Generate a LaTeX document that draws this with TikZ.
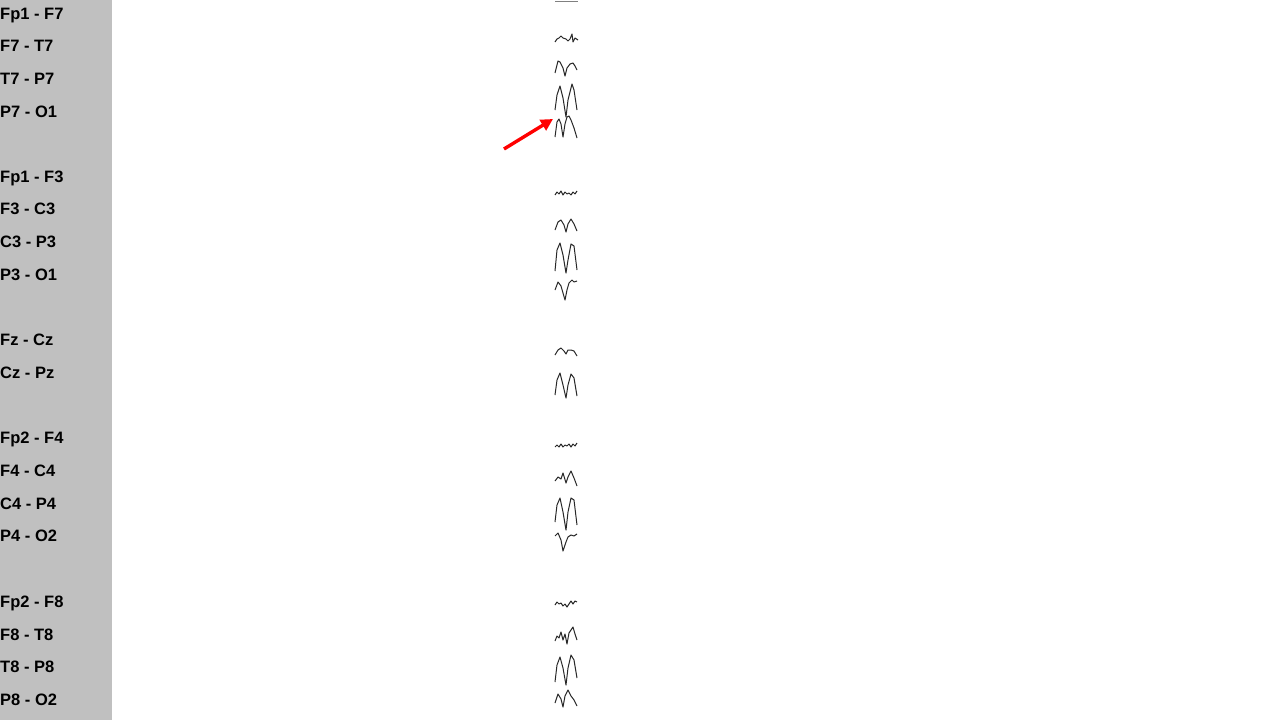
\documentclass[tikz,border=0pt]{standalone}
\usepackage{fontspec}
\setmainfont{Liberation Sans}
\usetikzlibrary{arrows.meta}
\definecolor{panelgray}{RGB}{192,192,192}
\definecolor{tracecol}{RGB}{40,40,40}
\begin{document}
\begin{tikzpicture}[x=1pt,y=-1pt,
  lbl/.style={anchor=base west,inner sep=0pt,font=\fontsize{16.5}{18}\selectfont\bfseries},
  trace/.style={draw=tracecol,line width=1pt,line join=round}]
\useasboundingbox (0,0) rectangle (1280,720);
\fill[white] (0,0) rectangle (1280,720);
\fill[panelgray] (0,0) rectangle (112,720);
% labels
\foreach \t/\y [count=\i] in {Fp1 - F7/13,F7 - T7/45,T7 - P7/78,P7 - O1/111,
  Fp1 - F3/176,F3 - C3/208,C3 - P3/241,P3 - O1/274,
  Fz - Cz/339,Cz - Pz/372,
  Fp2 - F4/437,F4 - C4/470,C4 - P4/503,P4 - O2/535,
  Fp2 - F8/601,F8 - T8/634,T8 - P8/666,P8 - O2/699}
  \node[lbl] (l\i) at (0,\y+6.8) {\t};
% traces
\draw[trace,draw=gray] (555,1) -- (578,1);
\draw[trace] (555,42) -- (557,39) -- (559,38) -- (561,36) -- (563,38) -- (566,39) -- (568,41) -- (570,39) -- (572,34) -- (573,42) -- (575,38) -- (578,40);
\draw[trace] (555,73) -- (558,61) -- (560,62) -- (563,68) -- (565,76) -- (567,68) -- (570,64) -- (573,63) -- (575,66) -- (577,70);
\draw[trace] (555,110) -- (557,95) -- (560,86) -- (563,98) -- (566,117) -- (568,100) -- (572,84) -- (574,90) -- (577,110);
\draw[trace] (555,137) -- (557,122) -- (559,119) -- (561,124) -- (563,137) -- (565,124) -- (567,117) -- (569,116) -- (571,120) -- (574,128) -- (577,138);
% group 2
\draw[trace] (555,195) -- (557,192) -- (559,194) -- (561,191) -- (563,195) -- (565,192) -- (567,194) -- (569,193) -- (571,195) -- (573,192) -- (575,194) -- (577,191);
\draw[trace] (555,230) -- (558,222) -- (561,220) -- (564,225) -- (566,232) -- (568,224) -- (571,219) -- (574,224) -- (577,231);
\draw[trace] (555,271) -- (557,250) -- (560,243) -- (563,255) -- (566,273) -- (568,260) -- (571,244) -- (574,246) -- (577,270);
\draw[trace] (555,290) -- (558,282) -- (561,286) -- (565,300) -- (567,290) -- (569,283) -- (572,280) -- (574,282) -- (577,281);
% group 3
\draw[trace] (555,355) -- (558,350) -- (561,348) -- (564,351) -- (566,354) -- (568,350) -- (571,350) -- (574,351) -- (577,356);
\draw[trace] (555,395) -- (557,380) -- (560,373) -- (563,385) -- (566,398) -- (568,385) -- (571,374) -- (574,378) -- (577,396);
% group 4
\draw[trace] (555,447) -- (557,445) -- (559,447) -- (561,444) -- (563,447) -- (565,445) -- (567,446) -- (569,444) -- (571,447) -- (573,444) -- (575,446) -- (577,443);
\draw[trace] (555,481) -- (558,477) -- (561,479) -- (563,473) -- (566,483) -- (568,477) -- (571,471) -- (574,478) -- (577,486);
\draw[trace] (555,522) -- (557,505) -- (560,498) -- (563,512) -- (566,530) -- (568,512) -- (571,498) -- (574,500) -- (577,525);
\draw[trace] (555,536) -- (558,533) -- (561,540) -- (563,551) -- (566,542) -- (568,537) -- (571,535) -- (574,536) -- (577,534);
% group 5
\draw[trace] (555,605) -- (557,602) -- (559,604) -- (561,603) -- (563,606) -- (565,604) -- (567,607) -- (569,604) -- (571,601) -- (573,604) -- (575,601) -- (577,602);
\draw[trace] (555,641) -- (557,636) -- (559,638) -- (561,632) -- (563,640) -- (565,634) -- (567,644) -- (569,633) -- (571,630) -- (573,627) -- (575,634) -- (577,640);
\draw[trace] (555,682) -- (557,665) -- (560,657) -- (563,668) -- (566,685) -- (568,668) -- (571,655) -- (574,660) -- (577,678);
\draw[trace] (555,703) -- (558,694) -- (561,699) -- (563,707) -- (565,696) -- (568,690) -- (571,696) -- (574,700) -- (577,706);
% arrow
\coordinate (a0) at (504,149);
\coordinate (a1) at (553,119);
\draw[red,line width=3.4pt,-{Triangle[length=12pt,width=12pt]}] (a0) -- (a1);
\end{tikzpicture}
\end{document}
